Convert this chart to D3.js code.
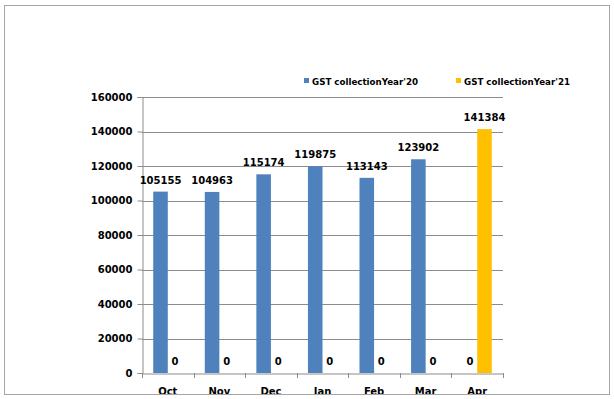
<!DOCTYPE html>
<html>
<head>
<meta charset="utf-8">
<script src="https://cdn.jsdelivr.net/npm/d3@7"></script>
<style>
html,body{margin:0;padding:0;background:#fff;}
svg{display:block;}
text{font-family:"DejaVu Sans",sans-serif;font-weight:bold;fill:#000;}
</style>
</head>
<body>
<svg id="chart" width="614" height="399"></svg>
<script>
const categories = ["Oct","Nov","Dec","Jan","Feb","Mar","Apr"];
const seriesNames = ["GST collectionYear'20","GST collectionYear'21"];
const year20 = [105155,104963,115174,119875,113143,123902,0];
const year21 = [0,0,0,0,0,0,141384];
const yTicks = [0,20000,40000,60000,80000,100000,120000,140000,160000];
const colors = ["#4F81BD","#FFC000"];

(function(){
const svg = d3.select("#chart");
const pL = 142, pR = 503, pT = 97, pB = 373;

// outer border
svg.append("rect").attr("x",4.5).attr("y",5.5).attr("width",605).attr("height",389)
  .attr("fill","#fff").attr("stroke","#a6a6a6").attr("stroke-width",1);

svg.append("defs").append("clipPath").attr("id","c")
  .append("rect").attr("x",5).attr("y",6).attr("width",604).attr("height",388);
const g = svg.append("g").attr("clip-path","url(#c)");

const y = d3.scaleLinear().domain([0,160000]).range([pB,pT]);
const x = d3.scaleBand().domain(categories).range([pL,pR]).padding(0);
const x1 = d3.scaleBand().domain([0,1]).range([0,x.bandwidth()]).paddingInner(0).paddingOuter(0.77);

// gridlines
g.append("g").selectAll("line").data(yTicks.filter(t=>t>0)).join("line")
  .attr("x1",pL).attr("x2",pR)
  .attr("y1",d=>Math.round(y(d))+0.5).attr("y2",d=>Math.round(y(d))+0.5)
  .attr("stroke","#8c8c8c").attr("stroke-width",1);

// y axis
const yAxis = g.append("g").attr("transform",`translate(${pL+0.5},0)`)
  .call(d3.axisLeft(y).tickValues(yTicks).tickSize(5).tickPadding(5).tickFormat(d=>String(d)));
yAxis.select(".domain").attr("stroke","#8c8c8c");
yAxis.selectAll(".tick line").attr("stroke","#8c8c8c");
yAxis.selectAll("text").attr("font-size","10px").attr("font-family","DejaVu Sans").attr("font-weight","bold").attr("fill","#000");

// bars
const data = categories.map((c,i)=>({c, vals:[year20[i],year21[i]]}));
const groups = g.append("g").selectAll("g").data(data).join("g")
  .attr("transform",d=>`translate(${x(d.c)},0)`);
groups.selectAll("rect").data(d=>d.vals.map((v,k)=>({v,k}))).join("rect")
  .attr("x",d=>x1(d.k)).attr("width",x1.bandwidth())
  .attr("y",d=>y(d.v)).attr("height",d=>pB-y(d.v))
  .attr("fill",d=>colors[d.k]);
groups.selectAll("text").data(d=>d.vals.map((v,k)=>({v,k}))).join("text")
  .attr("x",d=>x1(d.k)+x1.bandwidth()/2)
  .attr("y",d=>y(d.v)-8)
  .attr("text-anchor","middle").attr("font-size","10px")
  .text(d=>d.v);

// x axis
const xAxis = g.append("g").attr("transform",`translate(0,${pB+0.5})`)
  .call(d3.axisBottom(x).tickSize(0).tickPadding(0));
xAxis.select(".domain").attr("stroke","#8c8c8c");
xAxis.selectAll(".tick text").attr("font-size","10px").attr("font-family","DejaVu Sans").attr("font-weight","bold").attr("fill","#000")
  .attr("dy",null).attr("y",21);
// category boundary ticks
g.append("g").selectAll("line").data(categories.concat(["__end"])).join("line")
  .attr("x1",(d,i)=>Math.round(pL + i*x.step())+0.5)
  .attr("x2",(d,i)=>Math.round(pL + i*x.step())+0.5)
  .attr("y1",pB).attr("y2",pB+5)
  .attr("stroke","#8c8c8c");

// border line on top of clipped labels
svg.append("line").attr("x1",4).attr("x2",610).attr("y1",394.5).attr("y2",394.5).attr("stroke","#a6a6a6");

// legend
const legX = [304,456];
const leg = svg.append("g").selectAll("g").data(seriesNames).join("g")
  .attr("transform",(d,i)=>`translate(${legX[i]},0)`);
leg.append("rect").attr("x",0).attr("y",78).attr("width",5).attr("height",5).attr("fill",(d,i)=>colors[i]);
leg.append("text").attr("x",8).attr("y",84.5).attr("font-size","9.5px")
  .attr("textLength",106).attr("lengthAdjust","spacingAndGlyphs").text(d=>d);
})();
</script>
</body>
</html>
